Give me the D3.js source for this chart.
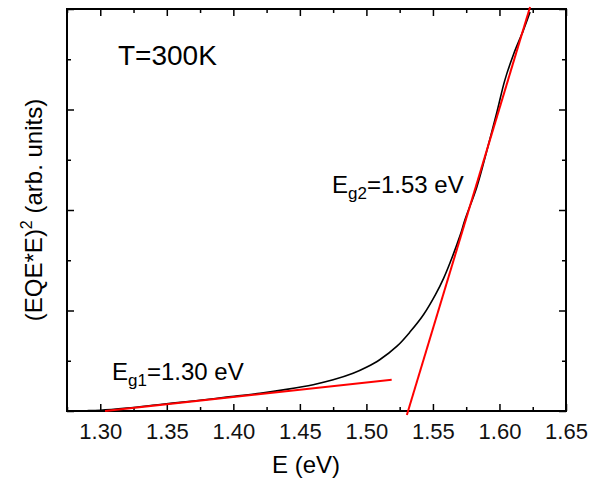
<!DOCTYPE html>
<html>
<head>
<meta charset="utf-8">
<script src="https://cdn.jsdelivr.net/npm/d3@7"></script>
<style>
  body { margin: 0; background: #fff; }
  svg { display: block; font-family: "Liberation Sans", Arial, sans-serif; }
</style>
</head>
<body>
<div id="chart"></div>
<script>
// measured curve (EQE*E)^2 vs photon energy
const energy = [1.275, 1.29, 1.30, 1.32, 1.345, 1.37, 1.395, 1.42, 1.44, 1.46, 1.475, 1.49, 1.50, 1.51, 1.523, 1.533, 1.543, 1.552, 1.558, 1.563, 1.5705, 1.574, 1.583, 1.5905, 1.598, 1.604, 1.6106, 1.618, 1.623];
const signal = [0, 0.003, 0.008, 0.03, 0.065, 0.10, 0.138, 0.176, 0.215, 0.262, 0.31, 0.375, 0.435, 0.51, 0.645, 0.79, 0.96, 1.16, 1.32, 1.48, 1.75, 1.90, 2.23, 2.59, 2.97, 3.29, 3.55, 3.79, 3.97];

// linear fits (end points, data units)
const fit1E = [1.3036, 1.519];
const fit1Y = [0, 0.31];
const fit2E = [1.5304, 1.623];
const fit2Y = [-0.04, 4.02];

const xMajor = [1.30, 1.35, 1.40, 1.45, 1.50, 1.55, 1.60, 1.65];
const xMinor = [1.275, 1.325, 1.375, 1.425, 1.475, 1.525, 1.575, 1.625];
const yMajor = [0, 1, 2, 3, 4];
const yMinor = [0.5, 1.5, 2.5, 3.5];

const W = 602, H = 483;
const margin = { top: 9, right: 36, bottom: 72, left: 67 };

const svg = d3.select("#chart").append("svg")
  .attr("width", W).attr("height", H);

const x = d3.scaleLinear().domain([1.275, 1.65]).range([margin.left, W - margin.right]);
const y = d3.scaleLinear().domain([0, 4]).range([H - margin.bottom, margin.top]);

const plotW = x.range()[1] - x.range()[0];
const plotH = y.range()[0] - y.range()[1];

// ticks (all pointing inwards)
const tickAxis = (axisFn, scale, vals, size, tx, ty, labels) => {
  const g = svg.append("g")
    .attr("transform", `translate(${tx},${ty})`)
    .call(axisFn(scale).tickValues(vals).tickSize(size).tickPadding(12)
      .tickFormat(labels ? d3.format(".2f") : ""));
  g.select(".domain").remove();
  g.selectAll("line").attr("stroke", "#000").attr("stroke-width", 1.5);
  g.selectAll("text").attr("font-size", 22).attr("fill", "#111");
  return g;
};

tickAxis(d3.axisBottom, x, xMajor, -7, 0, y.range()[0], true);
tickAxis(d3.axisBottom, x, xMinor, -4, 0, y.range()[0], false);
tickAxis(d3.axisTop, x, xMajor, -7, 0, y.range()[1], false);
tickAxis(d3.axisTop, x, xMinor, -4, 0, y.range()[1], false);
tickAxis(d3.axisLeft, y, yMajor, -7, x.range()[0], 0, false);
tickAxis(d3.axisLeft, y, yMinor, -4, x.range()[0], 0, false);
tickAxis(d3.axisRight, y, yMajor, -7, x.range()[1], 0, false);
tickAxis(d3.axisRight, y, yMinor, -4, x.range()[1], 0, false);

// frame
svg.append("rect")
  .attr("x", x.range()[0]).attr("y", y.range()[1])
  .attr("width", plotW).attr("height", plotH)
  .attr("fill", "none").attr("stroke", "#000").attr("stroke-width", 2);

// data curve
const line = d3.line()
  .x(d => x(d[0]))
  .y(d => y(d[1]))
  .curve(d3.curveCatmullRom.alpha(0.5));

svg.append("path")
  .datum(energy.map((e, i) => [e, signal[i]]))
  .attr("fill", "none")
  .attr("stroke", "#000")
  .attr("stroke-width", 1.6)
  .attr("d", line);

// fit lines
const straight = d3.line().x(d => x(d[0])).y(d => y(d[1]));
[[fit1E, fit1Y], [fit2E, fit2Y]].forEach(([es, ys]) => {
  svg.append("path")
    .datum(es.map((e, i) => [e, ys[i]]))
    .attr("fill", "none")
    .attr("stroke", "#f00")
    .attr("stroke-width", 2)
    .attr("d", straight);
});

// annotations
svg.append("text")
  .attr("x", 118).attr("y", 65)
  .attr("font-size", 28)
  .text("T=300K");

const gapLabel = (px, py, sub, value) => {
  const t = svg.append("text")
    .attr("x", px).attr("y", py)
    .attr("font-size", 24);
  t.append("tspan").text("E");
  t.append("tspan").attr("font-size", 17).attr("dy", 6).text(sub);
  t.append("tspan").attr("dy", -6).text("=" + value + " eV");
};
gapLabel(112, 380, "g1", "1.30");
gapLabel(332, 193, "g2", "1.53");

// axis titles
svg.append("text")
  .attr("x", 306).attr("y", 473)
  .attr("text-anchor", "middle")
  .attr("font-size", 24)
  .text("E (eV)");

const yl = svg.append("text")
  .attr("transform", `translate(42,${(y.range()[0] + y.range()[1]) / 2}) rotate(-90)`)
  .attr("text-anchor", "middle")
  .attr("font-size", 24);
yl.append("tspan").text("(EQE*E)");
yl.append("tspan").attr("font-size", 16).attr("dy", -10).text("2");
yl.append("tspan").attr("dy", 10).text(" (arb. units)");
</script>
</body>
</html>
